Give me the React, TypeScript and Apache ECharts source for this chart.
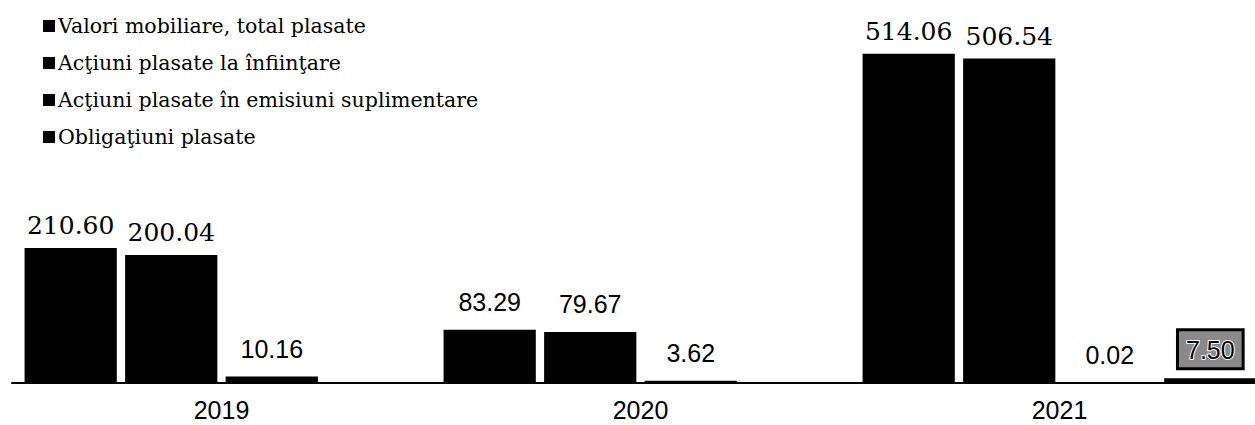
import React, { useEffect, useRef } from "react";
import * as echarts from "echarts";

const categories = ["2019", "2020", "2021"];
const seriesNames = [
  "Valori mobiliare, total plasate",
  "Acţiuni plasate la înfiinţare",
  "Acţiuni plasate în emisiuni suplimentare",
  "Obligaţiuni plasate",
];
const totalPlaced = [210.6, 83.29, 514.06];
const atFounding = [200.04, 79.67, 506.54];
const additionalIssues = [10.16, 3.62, 0.02];
const bondsPlaced: (number | null)[] = [null, null, 7.5];

const valuesBySeries = [totalPlaced, atFounding, additionalIssues, bondsPlaced];

const SERIF = "'DejaVu Serif', serif";
const SANS = "'Liberation Sans', Arial, sans-serif";

export default function App() {
  const ref = useRef<HTMLDivElement>(null);
  useEffect(() => {
    if (!ref.current) return;
    const chart = echarts.init(ref.current, undefined, { renderer: "svg" });
    const series = valuesBySeries.map((vals, si) => ({
      name: seriesNames[si],
      type: "bar",
      barGap: "9%",
      barCategoryGap: "6%",
      itemStyle: { color: "#000" },
      data: vals.map((v, ci) => {
        if (v === null) return "-";
        const serif = si < 2 && categories[ci] !== "2020";
        const boxed = si === 3;
        return {
          value: v,
          label: boxed
            ? {
                show: true,
                position: "top",
                distance: 11,
                formatter: (p: any) => p.value.toFixed(2),
                fontFamily: SANS,
                fontSize: 25,
                color: "#000",
                textBorderColor: "#fff",
                textBorderWidth: 2,
                backgroundColor: "#8a8a8a",
                borderColor: "#000",
                borderWidth: 3,
                padding: [6, 7, 5, 7],
              }
            : {
                show: true,
                position: "top",
                distance: serif ? 10 : 15,
                formatter: (p: any) => p.value.toFixed(2),
                fontFamily: serif ? SERIF : SANS,
                fontSize: 25,
                color: "#000",
              },
        };
      }),
    }));
    chart.setOption({
      animation: false,
      backgroundColor: "#fff",
      grid: { left: 12, top: 0, width: 1257, height: 383, containLabel: false },
      legend: {
        orient: "vertical",
        left: 38,
        top: 10,
        itemGap: 15,
        itemWidth: 12,
        itemHeight: 12,
        icon: "rect",
        data: seriesNames,
        textStyle: { fontFamily: SERIF, fontSize: 20.5, color: "#000", lineHeight: 22, padding: [0, 0, 0, -2] },
      },
      xAxis: {
        type: "category",
        data: categories,
        axisLine: { lineStyle: { color: "#000", width: 2 } },
        axisTick: { show: false },
        axisLabel: { fontFamily: SANS, fontSize: 25, color: "#000", margin: 14 },
      },
      yAxis: { type: "value", min: 0, max: 598, show: false, splitLine: { show: false } },
      series,
    });
    return () => chart.dispose();
  }, []);
  return (
    <div style={{ position: "fixed", left: 0, top: 0, width: 1255, height: 425, overflow: "hidden", background: "#fff" }}>
      <div ref={ref} style={{ width: 1280, height: 425 }} />
    </div>
  );
}
